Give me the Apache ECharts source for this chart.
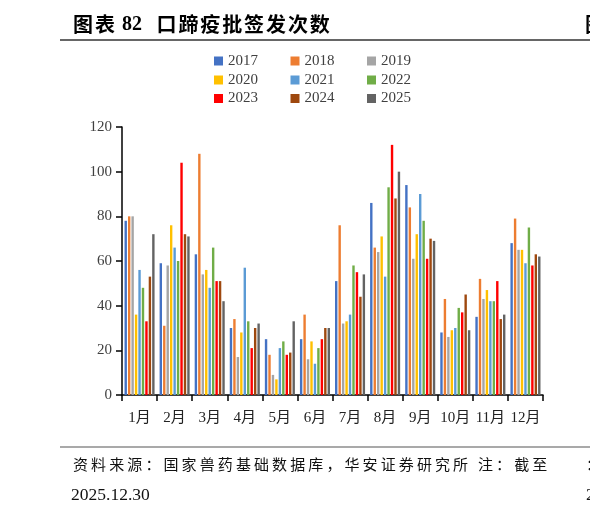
<!DOCTYPE html>
<html><head><meta charset="utf-8">
<script src="https://cdn.jsdelivr.net/npm/echarts@6/dist/echarts.min.js"></script>
<style>html,body{margin:0;padding:0;background:#fff}#c{width:590px;height:516px}</style>
</head><body><div id="c"></div>
<script>
const categories = ['1月','2月','3月','4月','5月','6月','7月','8月','9月','10月','11月','12月'];
const years = ['2017','2018','2019','2020','2021','2022','2023','2024','2025'];
const colors = ['#4472C4','#ED7D31','#A5A5A5','#FFC000','#5B9BD5','#70AD47','#FF0000','#9E480E','#636363'];
const v2017 = [78,59,63,30,25,25,51,86,94,28,35,68];
const v2018 = [80,31,108,34,18,36,76,66,84,43,52,79];
const v2019 = [80,58,54,17,9,16,32,64,61,26,43,65];
const v2020 = [36,76,56,28,7,24,33,71,72,29,47,65];
const v2021 = [56,66,48,57,21,14,36,53,90,30,42,59];
const v2022 = [48,60,66,33,24,21,58,93,78,39,42,75];
const v2023 = [33,104,51,21,18,25,55,112,61,37,51,58];
const v2024 = [53,72,51,30,19,30,44,88,70,45,34,63];
const v2025 = [72,71,42,32,33,30,54,100,69,29,36,62];
const yTicks = [0,20,40,60,80,100,120];
const allValues = [v2017,v2018,v2019,v2020,v2021,v2022,v2023,v2024,v2025];

const serif = '"Liberation Serif","Times New Roman","Noto Sans CJK SC",serif';
const cjk = '"Noto Sans CJK SC",sans-serif';

function spaced(text, x0, y, step, font, fill){
  const out=[];
  [...text].forEach((ch,i)=>{
    out.push({type:'text', x:x0+i*step, y:y, style:{text:ch, font:font, fill:fill, verticalAlign:'middle', align:'left'}});
  });
  return out;
}

const chart = echarts.init(document.getElementById('c'));
const series = years.map((y,i)=>({
  name:y, type:'bar', data:allValues[i], barWidth:2.4, barGap:'44%',
  itemStyle:{color:colors[i]}
}));
const legendRow = (items, top) => ({
  data: items, top: top, left: 214, orient:'horizontal', itemWidth:9, itemHeight:9, itemGap:32.5,
  icon:'rect', padding:0,
  textStyle:{fontFamily:serif, fontSize:15, color:'#404040'}
});
const titleFont = 'bold 20px ' + cjk;
const graphics = [].concat(
  spaced('图表', 73, 24.5, 22, titleFont, '#000'),
  [{type:'text', x:122, y:25, style:{text:'82', font:'bold 20px "Liberation Serif",serif', fill:'#000', verticalAlign:'middle'}}],
  spaced('口蹄疫批签发次数', 156.5, 24.5, 21.9, titleFont, '#000'),
  spaced('图表', 585, 24.5, 22, titleFont, '#000'),
  [{type:'line', shape:{x1:60,y1:40,x2:590,y2:40}, style:{stroke:'#666',lineWidth:2}},
   {type:'line', shape:{x1:60,y1:447,x2:590,y2:447}, style:{stroke:'#555',lineWidth:1.2}}],
  spaced('资料来源：国家兽药基础数据库，华安证券研究所', 73, 464.5, 18.1, '15px '+cjk, '#111'),
  spaced('注：截至', 478, 464.5, 18.1, '15px '+cjk, '#111'),
  [{type:'text', x:71, y:495, style:{text:'2025.12.30', font:'17.5px "Liberation Serif",serif', fill:'#111', verticalAlign:'middle'}},
   {type:'text', x:586, y:464.5, style:{text:'：', font:'15px '+cjk, fill:'#111', verticalAlign:'middle'}},
   {type:'text', x:586, y:495, style:{text:'2', font:'17.5px "Liberation Serif",serif', fill:'#111', verticalAlign:'middle'}}]
);
chart.setOption({
  animation:false,
  backgroundColor:'#fff',
  legend:[legendRow(years.slice(0,3),53.5), legendRow(years.slice(3,6),72.5), legendRow(years.slice(6,9),91)],
  grid:{left:122, right:47, top:127, bottom:121, containLabel:false},
  xAxis:{type:'category', data:categories,
    axisLine:{lineStyle:{color:'#000',width:1.5}},
    axisTick:{show:true, length:6, lineStyle:{color:'#000',width:1.5}},
    axisLabel:{fontFamily:serif, fontSize:15, color:'#222', margin:16, interval:0}},
  yAxis:{type:'value', min:0, max:120, interval:20,
    axisLine:{show:true, lineStyle:{color:'#000',width:1.5}},
    axisTick:{show:true, length:6, lineStyle:{color:'#000',width:1.5}},
    splitLine:{show:false},
    axisLabel:{fontFamily:serif, fontSize:15, color:'#404040', margin:10,
      formatter:v=> yTicks.includes(v)? String(v):''}},
  series: series,
  graphic: graphics
});
</script></body></html>
